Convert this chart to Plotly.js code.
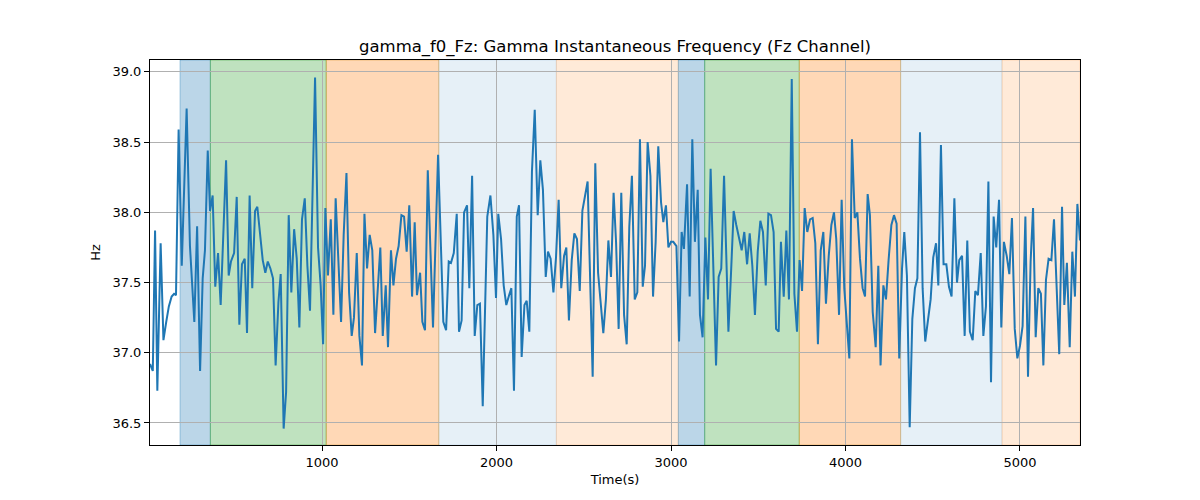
<!DOCTYPE html>
<html>
<head>
<meta charset="utf-8">
<script src="https://cdn.plot.ly/plotly-3.0.1.min.js"></script>
<style>
  html, body { margin: 0; padding: 0; background: white; }
  #chart { width: 1200px; height: 500px; }
</style>
</head>
<body>
<div id="chart"></div>
<script>
// time (s) and instantaneous gamma frequency (Hz)
var times = [
  14, 30, 43, 56, 75, 91, 107, 122, 138, 152, 163, 178, 196, 224, 243, 268, 284, 301, 316, 329,
  345, 358, 373, 388, 404, 419, 450, 465, 478, 496, 511, 526, 541, 557, 570, 585, 600, 616, 629, 645,
  660, 675, 689, 704, 719, 734, 750, 763, 780, 794, 809, 824, 840, 855, 870, 885, 901, 916, 931, 960,
  977, 992, 1006, 1019, 1034, 1050, 1065, 1078, 1094, 1109, 1124, 1140, 1155, 1170, 1183, 1199, 1214, 1229, 1243, 1258,
  1273, 1288, 1304, 1334, 1348, 1365, 1378, 1395, 1409, 1424, 1439, 1455, 1470, 1485, 1500, 1516, 1531, 1544, 1562, 1575,
  1590, 1606, 1636, 1665, 1695, 1711, 1726, 1739, 1755, 1772, 1785, 1800, 1814, 1831, 1844, 1860, 1875, 1890, 1905, 1921,
  1947, 1965, 1982, 1997, 2010, 2026, 2041, 2056, 2072, 2085, 2100, 2116, 2129, 2144, 2160, 2173, 2188, 2203, 2219, 2236,
  2251, 2266, 2282, 2295, 2310, 2326, 2341, 2356, 2371, 2387, 2400, 2415, 2431, 2446, 2461, 2477, 2492, 2507, 2522, 2551,
  2566, 2582, 2597, 2612, 2627, 2641, 2656, 2671, 2685, 2700, 2715, 2731, 2746, 2761, 2776, 2792, 2807, 2822, 2838, 2851,
  2866, 2882, 2897, 2912, 2927, 2943, 2956, 2971, 2985, 3000, 3013, 3031, 3046, 3061, 3074, 3092, 3107, 3122, 3137, 3153,
  3166, 3181, 3197, 3212, 3227, 3243, 3258, 3273, 3288, 3304, 3329, 3344, 3359, 3374, 3390, 3405, 3420, 3436, 3451, 3466,
  3481, 3497, 3512, 3527, 3543, 3558, 3573, 3588, 3602, 3617, 3630, 3646, 3661, 3676, 3692, 3707, 3722, 3737, 3751, 3766,
  3781, 3797, 3812, 3827, 3842, 3858, 3873, 3888, 3904, 3919, 3934, 3947, 3963, 3978, 3993, 4007, 4022, 4037, 4053, 4068,
  4083, 4098, 4112, 4127, 4140, 4156, 4173, 4188, 4201, 4217, 4232, 4247, 4263, 4278, 4293, 4308, 4324, 4337, 4352, 4368,
  4383, 4398, 4412, 4427, 4442, 4457, 4473, 4488, 4503, 4519, 4532, 4547, 4562, 4578, 4593, 4608, 4624, 4639, 4652, 4668,
  4683, 4698, 4713, 4729, 4744, 4759, 4775, 4790, 4805, 4819, 4834, 4849, 4864, 4880, 4893, 4908, 4924, 4939, 4954, 4970,
  4985, 5000, 5015, 5031, 5046, 5061, 5075, 5090, 5105, 5120, 5134, 5149, 5164, 5180, 5195, 5210, 5225, 5241, 5254, 5269,
  5285, 5300, 5315, 5329, 5344
];
var freqHz = [
  36.92, 36.87, 37.87, 36.73, 37.78, 37.09, 37.22, 37.33, 37.40, 37.42, 37.41, 38.59, 37.62, 38.74, 37.76, 37.22, 37.90, 36.87, 37.53, 37.73,
  38.44, 38.01, 38.12, 37.47, 37.71, 37.34, 38.37, 37.55, 37.65, 37.71, 38.11, 37.20, 37.63, 37.67, 37.14, 38.12, 37.46, 38.01, 38.04, 37.85,
  37.66, 37.57, 37.65, 37.60, 37.53, 36.91, 37.36, 37.56, 36.46, 36.72, 37.98, 37.43, 37.88, 37.67, 37.18, 37.95, 38.10, 37.62, 37.30, 38.96,
  37.75, 37.48, 37.06, 38.03, 37.55, 37.95, 37.27, 38.10, 37.65, 37.22, 37.84, 38.28, 37.43, 37.12, 37.25, 37.71, 37.12, 36.91, 37.99, 37.60,
  37.84, 37.73, 37.14, 37.75, 37.12, 37.48, 37.04, 37.73, 37.48, 37.67, 37.76, 37.98, 37.97, 37.72, 38.05, 37.40, 37.93, 37.41, 37.57, 37.22,
  37.16, 38.30, 37.18, 38.41, 37.22, 37.16, 37.65, 37.64, 37.71, 37.99, 37.15, 37.23, 38.00, 38.05, 37.46, 38.26, 37.12, 37.34, 37.35, 36.62,
  37.97, 38.12, 37.84, 37.39, 37.99, 37.81, 37.48, 37.34, 37.41, 37.46, 36.73, 37.97, 38.05, 36.97, 37.34, 37.37, 37.15, 38.29, 38.73, 37.98,
  38.37, 38.16, 37.54, 37.72, 37.67, 37.43, 37.68, 38.09, 37.46, 37.69, 37.75, 37.23, 37.66, 37.85, 37.81, 37.44, 38.01, 38.12, 38.22, 36.83,
  38.35, 37.57, 37.36, 37.14, 37.38, 37.80, 37.54, 38.14, 37.79, 37.17, 38.14, 37.27, 37.06, 37.90, 38.26, 37.38, 37.43, 38.52, 37.47, 37.62,
  38.50, 38.26, 37.40, 37.79, 38.47, 38.07, 37.93, 38.05, 37.75, 37.79, 37.79, 37.76, 37.08, 37.86, 37.74, 38.20, 37.40, 38.52, 37.79, 38.16,
  37.27, 37.11, 37.82, 37.38, 38.31, 37.53, 36.91, 37.54, 37.60, 38.26, 37.15, 37.57, 38.01, 37.91, 37.82, 37.73, 37.86, 37.63, 37.85, 37.62,
  37.27, 37.72, 37.94, 37.86, 37.48, 37.99, 37.98, 37.86, 37.17, 37.15, 37.79, 37.40, 37.87, 37.38, 38.95, 37.42, 37.15, 37.66, 37.44, 38.03,
  37.86, 37.95, 37.96, 37.78, 37.06, 37.73, 37.86, 37.35, 37.69, 37.91, 38.00, 37.81, 37.27, 38.09, 37.46, 37.19, 36.96, 38.52, 37.96, 38.00,
  37.67, 37.46, 37.40, 38.13, 37.98, 37.29, 37.04, 37.62, 36.91, 37.48, 37.38, 37.66, 37.91, 37.98, 37.92, 36.96, 37.60, 37.86, 37.55, 36.47,
  37.24, 37.46, 37.53, 38.57, 37.46, 37.08, 37.22, 37.38, 37.68, 37.78, 37.48, 38.48, 37.63, 37.63, 37.47, 37.40, 38.10, 37.50, 37.66, 37.69,
  37.12, 37.80, 37.15, 37.09, 37.44, 37.41, 37.71, 37.12, 37.33, 38.22, 36.79, 37.97, 37.75, 38.09, 37.18, 37.79, 37.69, 37.56, 37.96, 37.17,
  36.96, 37.05, 37.19, 37.97, 36.83, 37.65, 38.03, 37.11, 37.46, 37.42, 36.91, 37.52, 37.67, 37.66, 37.95, 37.53, 36.99, 38.04, 37.34, 37.64,
  37.04, 37.72, 37.40, 38.06, 37.80
];

// shaded segments (seconds) and their kind
var bandStart = [186, 360, 1024, 1669, 2343, 3042, 3193, 3735, 4316, 4897];
var bandEnd   = [360, 1024, 1669, 2343, 3042, 3193, 3735, 4316, 4897, 5344];
var bandKind  = ["blue", "green", "orange", "lightblue", "lightorange",
                 "blue", "green", "orange", "lightblue", "lightorange"];

var yTicks = [36.5, 37.0, 37.5, 38.0, 38.5, 39.0];
var xTicks = [1000, 2000, 3000, 4000, 5000];

var bandFill = {
  blue: "rgba(31,119,180,0.3)",
  green: "rgba(44,160,44,0.3)",
  orange: "rgba(255,127,14,0.3)",
  lightblue: "rgba(31,119,180,0.11)",
  lightorange: "rgba(255,127,14,0.16)"
};
var bandEdge = {
  blue: "rgba(31,119,180,0.35)",
  green: "rgba(44,160,44,0.45)",
  orange: "rgba(220,150,40,0.45)",
  lightblue: "rgba(31,119,180,0.12)",
  lightorange: "rgba(255,127,14,0.18)"
};

var shapes = bandStart.map(function (s, i) {
  var k = bandKind[i];
  return {
    type: "rect", xref: "x", yref: "paper",
    x0: s, x1: bandEnd[i], y0: 0, y1: 1,
    fillcolor: bandFill[k],
    line: { color: bandEdge[k], width: 1 },
    layer: "below"
  };
});

var data = [{
  type: "scatter",
  mode: "lines",
  x: times,
  y: freqHz,
  line: { color: "#1f77b4", width: 2 },
  hoverinfo: "x+y"
}];

var layout = {
  width: 1200,
  height: 500,
  margin: { l: 150, r: 120, t: 60, b: 55 },
  paper_bgcolor: "white",
  plot_bgcolor: "white",
  font: { family: "DejaVu Sans", size: 13, color: "black" },
  showlegend: false,
  title: {
    text: "gamma_f0_Fz: Gamma Instantaneous Frequency (Fz Channel)",
    font: { family: "DejaVu Sans", size: 16.5, color: "black" },
    x: 0.5125, xanchor: "center",
    y: 0.908, yanchor: "middle"
  },
  xaxis: {
    range: [14, 5344],
    tickvals: xTicks,
    ticks: "outside", ticklen: 5, tickwidth: 1, tickcolor: "black",
    showgrid: true, gridcolor: "#b0b0b0", gridwidth: 1,
    zeroline: false,
    showline: true, linecolor: "black", linewidth: 1, mirror: true,
    tickfont: { size: 13 },
    title: { text: "Time(s)", font: { size: 13 }, standoff: 6 }
  },
  yaxis: {
    range: [36.343, 39.085],
    tickvals: yTicks,
    ticktext: yTicks.map(function (v) { return v.toFixed(1); }),
    ticks: "outside", ticklen: 5, tickwidth: 1, tickcolor: "black",
    showgrid: true, gridcolor: "#b0b0b0", gridwidth: 1,
    zeroline: false,
    showline: true, linecolor: "black", linewidth: 1, mirror: true,
    tickfont: { size: 13 },
    title: { text: "Hz", font: { size: 13 }, standoff: 8 }
  },
  shapes: shapes
};

Plotly.newPlot("chart", data, layout, { displayModeBar: false, staticPlot: true });
</script>
</body>
</html>
